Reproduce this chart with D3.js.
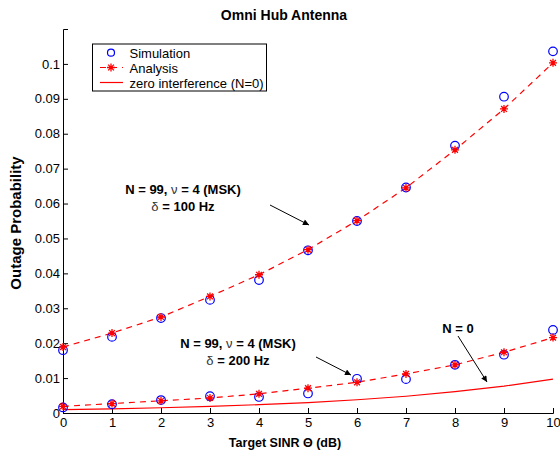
<!DOCTYPE html>
<html>
<head>
<meta charset="utf-8">
<script src="https://cdn.jsdelivr.net/npm/d3@7"></script>
<style>
  body { margin: 0; background: #fff; }
  svg { font-family: 'Liberation Sans', Arial, Helvetica, sans-serif; }
</style>
</head>
<body>
<svg id="chart" width="560" height="459"></svg>
<script>
// Target SINR (dB)
const sinr = [0, 1, 2, 3, 4, 5, 6, 7, 8, 9, 10]
// delta = 100 Hz
const sim100 = [0.0180, 0.0218, 0.0272, 0.0324, 0.0381, 0.0466, 0.0550, 0.0646, 0.0766, 0.0906, 0.1036]
const ana100 = [0.0189, 0.0229, 0.0275, 0.0334, 0.0396, 0.0468, 0.0551, 0.0645, 0.0754, 0.0871, 0.1003]
// delta = 200 Hz
const sim200 = [0.0016, 0.0025, 0.0037, 0.0048, 0.0046, 0.0056, 0.0098, 0.0097, 0.0138, 0.0167, 0.0238]
const ana200 = [0.0019, 0.0027, 0.0035, 0.0043, 0.0055, 0.0071, 0.0088, 0.0112, 0.0138, 0.0174, 0.0216]
// zero interference (N=0)
const zeroInt = [0.00095, 0.0012, 0.0015, 0.0019, 0.0024, 0.0030, 0.0038, 0.0048, 0.0061, 0.0077, 0.0097]
const yTicks = [0, 0.01, 0.02, 0.03, 0.04, 0.05, 0.06, 0.07, 0.08, 0.09, 0.1]

const svg = d3.select('#chart')
const x = d3.scaleLinear().domain([0, 10]).range([63, 553])
const y = d3.scaleLinear().domain([0, 0.11]).range([413, 29])

// Axes (left and bottom only, ticks inward)
svg.append('g')
  .attr('transform', 'translate(0,413)')
  .call(d3.axisBottom(x).tickValues(sinr).tickSize(-5).tickPadding(5).tickFormat(d3.format('d')))
  .call(g => g.selectAll('text').attr('font-size', 13).attr('fill', '#000'))
svg.append('g')
  .attr('transform', 'translate(63,0)')
  .call(d3.axisLeft(y).tickValues(yTicks).tickSize(-5).tickPadding(3).tickFormat(d => d === 0 ? '0' : d3.format('.2~f')(d)))
  .call(g => g.selectAll('text').attr('font-size', 13).attr('fill', '#000'))
svg.selectAll('.domain').attr('stroke', '#000')
svg.selectAll('.tick line').attr('stroke', '#000')

const line = d3.line().x((d, i) => x(sinr[i])).y(d => y(d))

// Lines
svg.append('path').datum(zeroInt).attr('d', line)
  .attr('fill', 'none').attr('stroke', '#ff0000').attr('stroke-width', 1.2)
;[ana100, ana200].forEach(s => {
  svg.append('path').datum(s).attr('d', line)
    .attr('fill', 'none').attr('stroke', '#ff0000').attr('stroke-width', 1.2)
    .attr('stroke-dasharray', '6,5')
})

// Markers
function circles (s) {
  svg.append('g').selectAll('circle').data(s).enter().append('circle')
    .attr('cx', (d, i) => x(sinr[i])).attr('cy', d => y(d)).attr('r', 4.3)
    .attr('fill', 'none').attr('stroke', '#0000ff').attr('stroke-width', 1.2)
}
const starPath = 'M-4,0H4M0,-4V4M-2.9,-2.9L2.9,2.9M-2.9,2.9L2.9,-2.9'
function stars (s) {
  svg.append('g').selectAll('path').data(s).enter().append('path')
    .attr('transform', (d, i) => 'translate(' + x(sinr[i]) + ',' + y(d) + ')')
    .attr('d', starPath).attr('fill', 'none').attr('stroke', '#ff0000').attr('stroke-width', 1.3)
}
circles(sim100); circles(sim200)
stars(ana100); stars(ana200)

// Title and axis labels
svg.append('text').attr('x', 284).attr('y', 20).attr('text-anchor', 'middle')
  .attr('font-size', 14).attr('font-weight', 'bold').text('Omni Hub Antenna')
svg.append('text').attr('x', 285).attr('y', 447).attr('text-anchor', 'middle')
  .attr('font-size', 12.5).attr('font-weight', 'bold').text('Target SINR \u0398 (dB)')
svg.append('text').attr('transform', 'translate(20.5,223) rotate(-90)').attr('text-anchor', 'middle')
  .attr('font-size', 15).attr('font-weight', 'bold').text('Outage Probability')

// Annotations
function note (cx, cy, delta) {
  const t1 = svg.append('text').attr('x', cx).attr('y', cy).attr('text-anchor', 'middle')
    .attr('font-size', 13).attr('font-weight', 'bold')
  t1.append('tspan').text('N = 99, ')
  t1.append('tspan').attr('font-weight', 'normal').attr('fill', '#333').text('\u03bd')
  t1.append('tspan').text(' = 4 (MSK)')
  const t2 = svg.append('text').attr('x', cx).attr('y', cy + 17).attr('text-anchor', 'middle')
    .attr('font-size', 13).attr('font-weight', 'bold')
  t2.append('tspan').attr('font-weight', 'normal').attr('fill', '#333').text('\u03b4')
  t2.append('tspan').text(' = ' + delta + ' Hz')
}
note(183, 194, 100)
note(238, 348, 200)
svg.append('text').attr('x', 458).attr('y', 333).attr('text-anchor', 'middle')
  .attr('font-size', 13).attr('font-weight', 'bold').text('N = 0')

svg.append('defs').append('marker').attr('id', 'arrow')
  .attr('viewBox', '0 0 10 10').attr('refX', 10).attr('refY', 5)
  .attr('markerWidth', 8).attr('markerHeight', 6).attr('markerUnits', 'userSpaceOnUse')
  .attr('orient', 'auto')
  .append('path').attr('d', 'M0,0L10,5L0,10Z').attr('fill', '#000')
const arrows = [[270, 205, 309, 225], [316, 357, 351, 375], [458, 336, 487, 382]]
arrows.forEach(a => {
  svg.append('line').attr('x1', a[0]).attr('y1', a[1]).attr('x2', a[2]).attr('y2', a[3])
    .attr('stroke', '#000').attr('stroke-width', 1).attr('marker-end', 'url(#arrow)')
})

// Legend
const lg = svg.append('g')
lg.append('rect').attr('x', 92.5).attr('y', 44).attr('width', 174).attr('height', 47)
  .attr('fill', '#fff').attr('stroke', '#000').attr('stroke-width', 1)
lg.append('circle').attr('cx', 111).attr('cy', 52.7).attr('r', 3.5)
  .attr('fill', 'none').attr('stroke', '#0000ff').attr('stroke-width', 1.2)
lg.append('line').attr('x1', 100).attr('x2', 123).attr('y1', 67.5).attr('y2', 67.5)
  .attr('stroke', '#ff0000').attr('stroke-width', 1.2).attr('stroke-dasharray', '6,5')
lg.append('path').attr('transform', 'translate(111,67.5)').attr('d', starPath)
  .attr('stroke', '#ff0000').attr('stroke-width', 1.3)
lg.append('line').attr('x1', 100).attr('x2', 123).attr('y1', 82.5).attr('y2', 82.5)
  .attr('stroke', '#ff0000').attr('stroke-width', 1.2)
const labels = ['Simulation', 'Analysis', 'zero interference (N=0)']
labels.forEach((t, i) => {
  lg.append('text').attr('x', 129.5).attr('y', 57.5 + i * 15).attr('font-size', 13).text(t)
})
</script>
</body>
</html>
